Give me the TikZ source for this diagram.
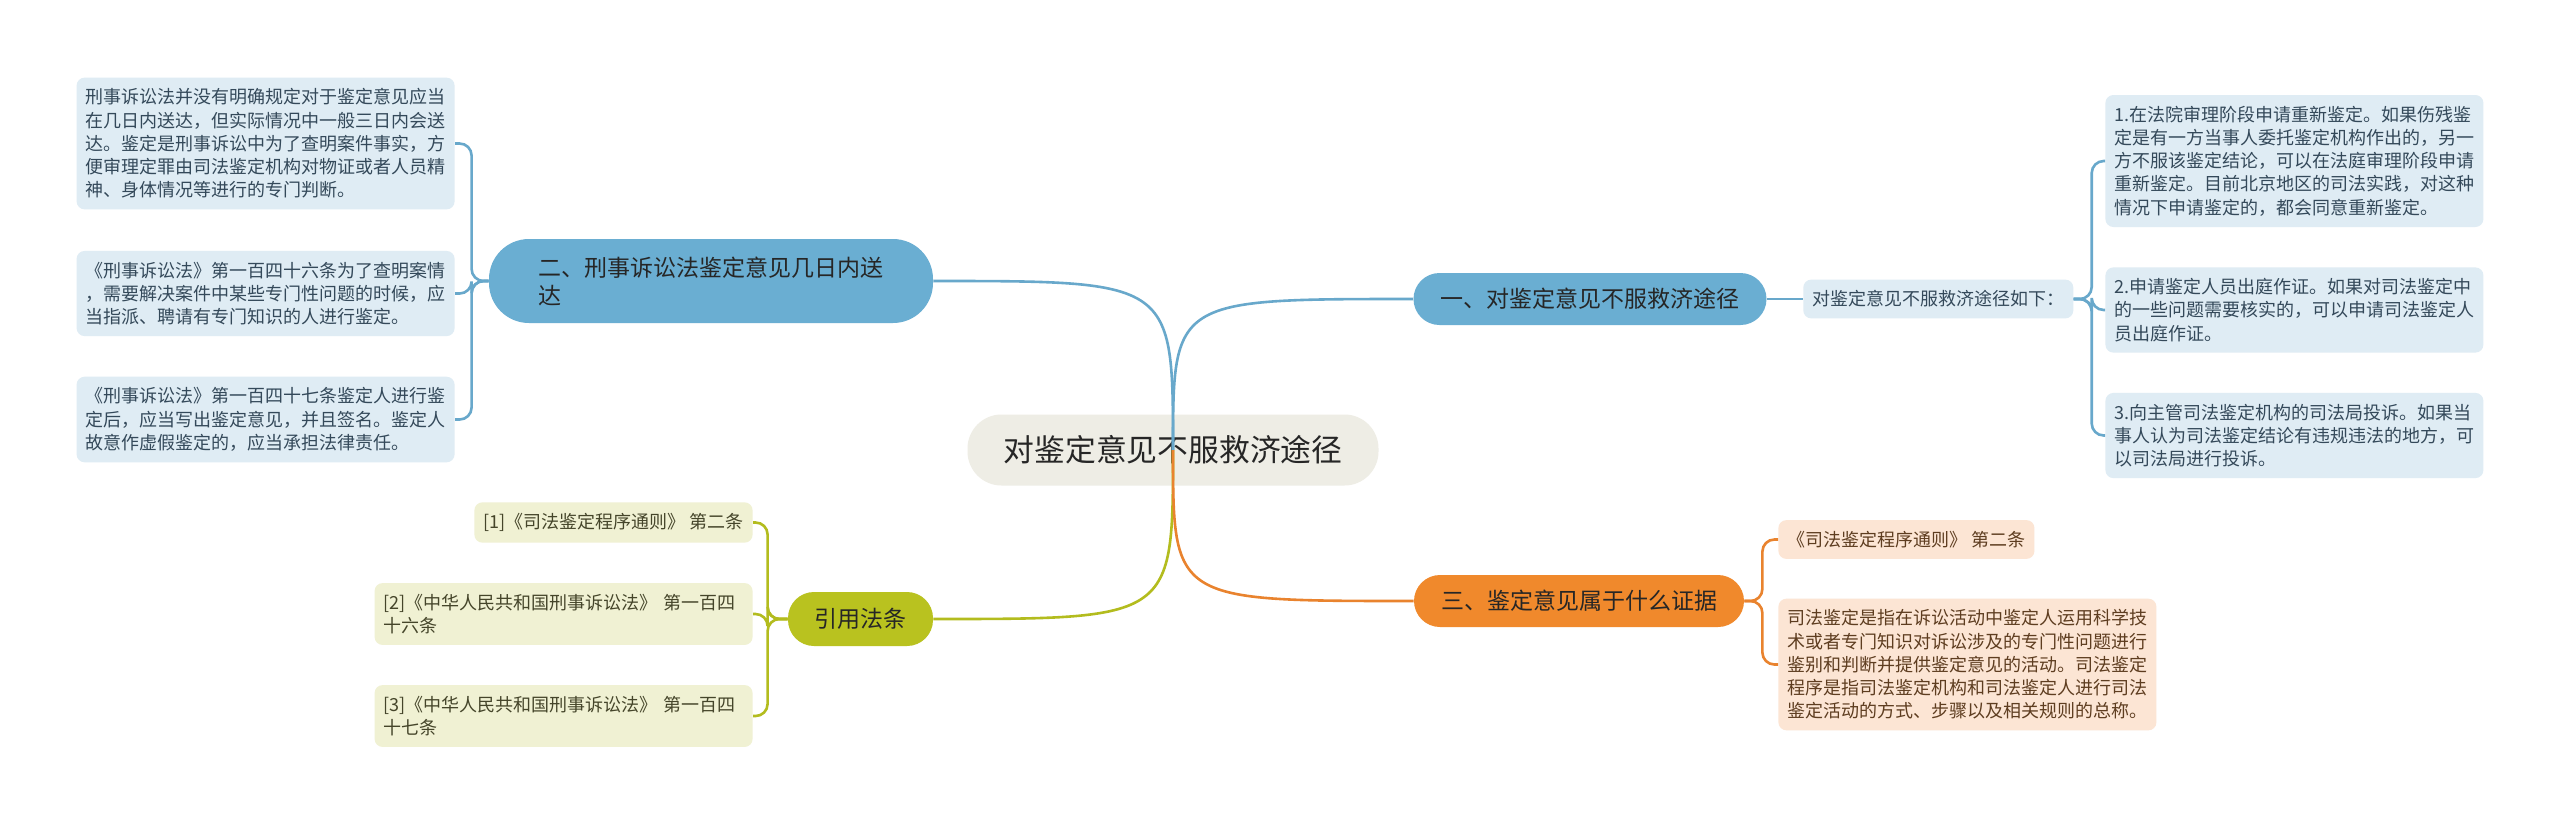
\documentclass[tikz,border=0pt]{standalone}
\usepackage{fontspec}
\setmainfont{Noto Sans CJK SC}
\usepackage{xcolor}
\usetikzlibrary{positioning}

\definecolor{rootfill}{HTML}{EEEDE5}
\definecolor{bluebranch}{HTML}{6AAED2}
\definecolor{blueleaf}{HTML}{DFECF4}
\definecolor{blueline}{HTML}{68A8CB}
\definecolor{bluetext}{HTML}{34495A}
\definecolor{greenbranch}{HTML}{B9C21F}
\definecolor{greenleaf}{HTML}{F0F1D3}
\definecolor{greenline}{HTML}{B3BC1E}
\definecolor{greentext}{HTML}{45452A}
\definecolor{orangebranch}{HTML}{F0892C}
\definecolor{orangeleaf}{HTML}{FCE5D4}
\definecolor{orangeline}{HTML}{E9832E}
\definecolor{orangetext}{HTML}{5E3D20}

\begin{document}
\begin{tikzpicture}[
  x=0.5pt, y=-0.5pt,
  rootnode/.style={
    fill=rootfill,
    rounded corners=17pt,
    minimum width=205.5pt,
    minimum height=35.5pt,
    font=\fontsize{15.4}{18}\selectfont,
    text=black!85
  },
  branchnode/.style={
    rounded corners=13pt,
    minimum height=26pt,
    font=\fontsize{11.5}{14}\selectfont,
    text=black!85
  },
  leafnode/.style={
    rounded corners=4pt,
    inner xsep=4.5pt,
    inner ysep=5.5pt,
    align=left,
    font=\fontsize{9}{11.6}\selectfont
  },
  wideleaf/.style={leafnode, text width=180pt},
  blueconn/.style={draw=blueline, line width=1.3pt, rounded corners=6pt},
  greenconn/.style={draw=greenline, line width=1.3pt, rounded corners=6pt},
  orangeconn/.style={draw=orangeline, line width=1.3pt, rounded corners=6pt}
]
  \fill[white] (0,0) rectangle (2560,826);
  \useasboundingbox (0,0) rectangle (2560,826);

  % centre
  \node[rootnode] (root) at (1173,450) {对鉴定意见不服救济途径};

  % first branch, right top
  \node[branchnode, fill=bluebranch, minimum width=176.5pt] (bone) at (1590,299)
    {一、对鉴定意见不服救济途径};
  \node[leafnode, fill=blueleaf, text=bluetext, right=18pt of bone] (info)
    {对鉴定意见不服救济途径如下：};
  \node[wideleaf, fill=blueleaf, text=bluetext, anchor=west] (rone) at (2105,161)
    {1.在法院审理阶段申请重新鉴定。如果伤残鉴\\定是有一方当事人委托鉴定机构作出的，另一\\方不服该鉴定结论，可以在法庭审理阶段申请\\重新鉴定。目前北京地区的司法实践，对这种\\情况下申请鉴定的，都会同意重新鉴定。};
  \node[wideleaf, fill=blueleaf, text=bluetext, anchor=west] (rtwo) at (2105,310)
    {2.申请鉴定人员出庭作证。如果对司法鉴定中\\的一些问题需要核实的，可以申请司法鉴定人\\员出庭作证。};
  \node[wideleaf, fill=blueleaf, text=bluetext, anchor=west] (rthree) at (2105,435.5)
    {3.向主管司法鉴定机构的司法局投诉。如果当\\事人认为司法鉴定结论有违规违法的地方，可\\以司法局进行投诉。};

  % second branch, left top
  \node[branchnode, fill=bluebranch, rounded corners=20pt, minimum width=222pt,
    minimum height=42pt, text width=173pt, align=left] (btwo) at (711,281)
    {二、刑事诉讼法鉴定意见几日内送\\达};
  \node[wideleaf, fill=blueleaf, text=bluetext, anchor=east] (lone) at (455,143.5)
    {刑事诉讼法并没有明确规定对于鉴定意见应当\\在几日内送达，但实际情况中一般三日内会送\\达。鉴定是刑事诉讼中为了查明案件事实，方\\便审理定罪由司法鉴定机构对物证或者人员精\\神、身体情况等进行的专门判断。};
  \node[wideleaf, fill=blueleaf, text=bluetext, anchor=east] (ltwo) at (455,293.5)
    {《刑事诉讼法》第一百四十六条为了查明案情\\，需要解决案件中某些专门性问题的时候，应\\当指派、聘请有专门知识的人进行鉴定。};
  \node[wideleaf, fill=blueleaf, text=bluetext, anchor=east] (lthree) at (455,419.5)
    {《刑事诉讼法》第一百四十七条鉴定人进行鉴\\定后，应当写出鉴定意见，并且签名。鉴定人\\故意作虚假鉴定的，应当承担法律责任。};

  % third branch, right bottom
  \node[branchnode, fill=orangebranch, minimum width=165pt] (bthree) at (1579,601)
    {三、鉴定意见属于什么证据};
  \node[leafnode, fill=orangeleaf, text=orangetext, anchor=west] (oone) at (1778,539.5)
    {《司法鉴定程序通则》 第二条};
  \node[wideleaf, fill=orangeleaf, text=orangetext, anchor=west] (otwo) at (1778,664.5)
    {司法鉴定是指在诉讼活动中鉴定人运用科学技\\术或者专门知识对诉讼涉及的专门性问题进行\\鉴别和判断并提供鉴定意见的活动。司法鉴定\\程序是指司法鉴定机构和司法鉴定人进行司法\\鉴定活动的方式、步骤以及相关规则的总称。};

  % cited laws, left bottom
  \node[branchnode, fill=greenbranch, minimum width=72.5pt, minimum height=27pt] (bcite) at (860.5,619)
    {引用法条};
  \node[leafnode, fill=greenleaf, text=greentext, anchor=east] (gone) at (753,522.5)
    {[1]《司法鉴定程序通则》 第二条};
  \node[wideleaf, fill=greenleaf, text=greentext, anchor=east] (gtwo) at (753,614)
    {[2]《中华人民共和国刑事诉讼法》 第一百四\\十六条};
  \node[wideleaf, fill=greenleaf, text=greentext, anchor=east] (gthree) at (753,716)
    {[3]《中华人民共和国刑事诉讼法》 第一百四\\十七条};

  % connectors from the centre
  \draw[blueconn] (root.center) .. controls (root.center |- bone.west) .. (bone.west);
  \draw[blueconn] (root.center) .. controls (root.center |- btwo.east) .. (btwo.east);
  \draw[greenconn] (root.center) .. controls (root.center |- bcite.east) .. (bcite.east);
  \draw[orangeconn] (root.center) .. controls (root.center |- bthree.west) .. (bthree.west);

  % brackets to the leaves
  \draw[blueconn] (bone.east) -- (info.west);
  \foreach \leaf in {rone,rtwo,rthree}
    \draw[blueconn] (info.east) -- ++(18,0) |- (\leaf.west);
  \foreach \leaf in {lone,ltwo,lthree}
    \draw[blueconn] (btwo.west) -- ++(-17,0) |- (\leaf.east);
  \foreach \leaf in {oone,otwo}
    \draw[orangeconn] (bthree.east) -- ++(18,0) |- (\leaf.west);
  \foreach \leaf in {gone,gtwo,gthree}
    \draw[greenconn] (bcite.west) -- ++(-20,0) |- (\leaf.east);
\end{tikzpicture}
\end{document}
